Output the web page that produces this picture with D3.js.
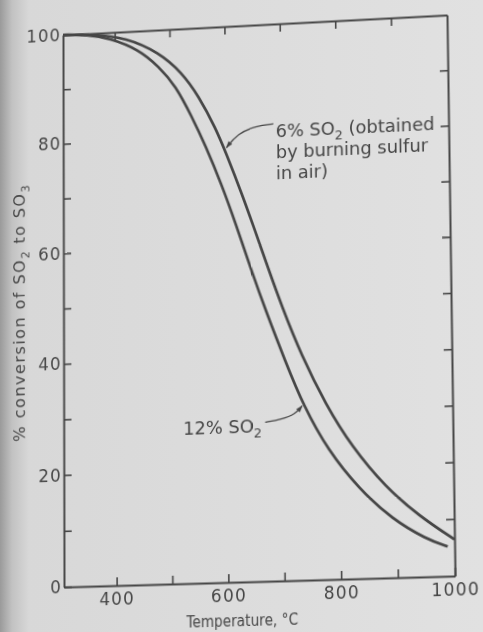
<!DOCTYPE html>
<html>
<head>
<meta charset="utf-8">
<script src="https://cdn.jsdelivr.net/npm/d3@7"></script>
<style>
  html, body { margin: 0; padding: 0; width: 483px; height: 632px; overflow: hidden; background: #dedede; }
  svg { position: absolute; left: 0; top: 0; overflow: visible; }
</style>
</head>
<body>
<div id="svganchor"></div>
<script>
let width = 483, height = 632;

// flat chart frame, later bent onto the photographed page
let frame = ({left: 63, right: 455, top: 35, bottom: 587});
// where the frame corners sit in the photo: TL, TR, BR, BL
let pageCorners = [[63, 35], [447, 15], [455, 576], [64, 587]];

// 12% SO2 curve
let temps12 = [305, 350, 390, 444, 480, 511, 539, 564, 593, 618, 645, 670, 705, 736, 780, 833, 891, 951, 988];
let conv12  = [100, 99.8, 99.0, 96.6, 93.3, 89.6, 84.0, 78.5, 71.2, 64.0, 55.6, 48.3, 38.9, 31.0, 22.7, 15.9, 10.3, 6.6, 5.2];

// 6% SO2 curve (sulfur burnt in air)
let temps6 = [305, 360, 421, 480, 522, 552, 583, 602, 629, 653, 675, 699, 734, 776, 821, 881, 939, 1000];
let conv6  = [100, 99.8, 98.9, 95.9, 92.0, 87.6, 81.5, 76.7, 69.5, 62.5, 55.9, 48.9, 39.8, 31.0, 23.4, 15.9, 10.7, 6.4];

let xTicks = [400, 500, 600, 700, 800, 900, 1000];
let xLabels = [400, 600, 800, 1000];
let yTicks = [0, 10, 20, 30, 40, 50, 60, 70, 80, 90, 100];
let yLabels = [0, 20, 40, 60, 80, 100];

// annotation anchors, in data units
let note6Lines = [["6% SO", "2", " (obtained"], ["by burning sulfur"], ["in air)"]];
let note6Pos = [691, 80.3];
let leader6 = [[687, 81.8], [655, 81.6], [622, 80.3], [602, 77.9]];
let note12Text = ["12% SO", "2", ""];
let note12Pos = [521, 27.2];
let leader12 = [[668, 28.2], [697, 28.6], [722, 29.5], [734, 30.9]];

let ink = "#464646";
let font = "DejaVu Sans";

function quadTransform(rect, quad) {
    let [[x0, y0], [x1, y1], [x2, y2], [x3, y3]] = quad;
    let dx1 = x1 - x2, dx2 = x3 - x2, dx3 = x0 - x1 + x2 - x3;
    let dy1 = y1 - y2, dy2 = y3 - y2, dy3 = y0 - y1 + y2 - y3;
    let den = dx1 * dy2 - dx2 * dy1;
    let g = (dx3 * dy2 - dx2 * dy3) / den;
    let h = (dx1 * dy3 - dx3 * dy1) / den;
    let a = x1 - x0 + g * x1, b = x3 - x0 + h * x3, c = x0;
    let d = y1 - y0 + g * y1, e = y3 - y0 + h * y3, f = y0;
    let W = rect.right - rect.left, H = rect.bottom - rect.top, L = rect.left, T = rect.top;
    let m = [
        a / W, d / W, 0, g / W,
        b / H, e / H, 0, h / H,
        0, 0, 1, 0,
        c - a * L / W - b * T / H, f - d * L / W - e * T / H, 0, 1 - g * L / W - h * T / H
    ];
    return `matrix3d(${m.join(",")})`;
}

// text with SO2 style subscripts: parts alternate normal / subscript
function richText(sel, parts, size) {
    let shift = 0;
    parts.forEach(function(p, i) {
        if (p === "") return;
        let sub = i % 2 === 1;
        let target = sub ? size * 0.3 : 0;
        sel.append("tspan")
            .attr("dy", target - shift)
            .attr("font-size", sub ? size * 0.72 : size)
            .text(p);
        shift = target;
    });
    return sel;
}

// page background with the shadow of the binding on the left
let bg = d3.select("#svganchor").append("svg")
    .attr("width", width)
    .attr("height", height);

let shade = bg.append("defs").append("linearGradient")
    .attr("id", "shade")
    .attr("x1", "0%").attr("x2", "100%")
    .attr("y1", "0%").attr("y2", "0%");
shade.append("stop").attr("offset", "0%").attr("stop-color", "#9a9a9a");
shade.append("stop").attr("offset", "2.5%").attr("stop-color", "#c2c2c2");
shade.append("stop").attr("offset", "6%").attr("stop-color", "#d8d8d8");
shade.append("stop").attr("offset", "100%").attr("stop-color", "#e1e1e1");

bg.append("rect")
    .attr("width", width)
    .attr("height", height)
    .attr("fill", "url(#shade)");

let svg = d3.select("#svganchor").append("svg")
    .attr("width", width)
    .attr("height", height)
    .style("transform-origin", "0 0")
    .style("transform", quadTransform(frame, pageCorners));

let defs = svg.append("defs");
defs.append("marker")
    .attr("id", "arrow")
    .attr("viewBox", "0 0 10 10")
    .attr("refX", 9)
    .attr("refY", 5)
    .attr("markerWidth", 8)
    .attr("markerHeight", 7)
    .attr("markerUnits", "userSpaceOnUse")
    .attr("orient", "auto")
    .append("path")
    .attr("d", "M0,1.5L10,5L0,8.5Z")
    .attr("fill", ink);

let xScale = d3.scaleLinear()
    .domain([305, 1000])
    .range([frame.left, frame.right]);

let yScale = d3.scaleLinear()
    .domain([0, 100])
    .range([frame.bottom, frame.top]);

function styleAxis(g) {
    g.attr("color", ink)
        .attr("font-family", font)
        .attr("font-size", 17);
    g.select(".domain").attr("stroke-width", 2);
    g.selectAll(".tick line").attr("stroke-width", 1.6);
    g.selectAll(".tick text").attr("fill", ink).attr("letter-spacing", 1.2);
}

let gX = svg.append("g")
    .attr("transform", `translate(0,${frame.bottom})`)
    .call(d3.axisBottom(xScale)
        .tickValues(xTicks)
        .tickSizeInner(-8)
        .tickSizeOuter(0)
        .tickPadding(7)
        .tickFormat(d => xLabels.includes(d) ? d : ""))
    .call(styleAxis);

let gXTop = svg.append("g")
    .attr("transform", `translate(0,${frame.top})`)
    .call(d3.axisTop(xScale)
        .tickValues(xTicks.filter(d => d < 1000))
        .tickSizeInner(-8)
        .tickSizeOuter(0)
        .tickFormat(""))
    .call(styleAxis);

let gY = svg.append("g")
    .attr("transform", `translate(${frame.left},0)`)
    .call(d3.axisLeft(yScale)
        .tickValues(yTicks)
        .tickSizeInner(-8)
        .tickSizeOuter(0)
        .tickPadding(2)
        .tickFormat(d => yLabels.includes(d) ? d : ""))
    .call(styleAxis);

let gYRight = svg.append("g")
    .attr("transform", `translate(${frame.right},0)`)
    .call(d3.axisRight(yScale)
        .tickValues(yTicks.filter(d => d > 0 && d < 100))
        .tickSizeInner(-8)
        .tickSizeOuter(0)
        .tickFormat(""))
    .call(styleAxis);

// curves
let line = d3.line()
    .x(d => xScale(d[0]))
    .y(d => yScale(d[1]))
    .curve(d3.curveBasis);

let series = [
    d3.zip(temps12, conv12),
    d3.zip(temps6, conv6)
];

svg.selectAll(".curve")
    .data(series)
    .enter()
    .append("path")
    .attr("class", "curve")
    .attr("d", line)
    .attr("fill", "none")
    .attr("stroke", ink)
    .attr("stroke-width", 2.7)
    .attr("stroke-linejoin", "round");

// leaders with arrowheads
let leader = d3.line()
    .x(d => xScale(d[0]))
    .y(d => yScale(d[1]))
    .curve(d3.curveBasis);

svg.selectAll(".leader")
    .data([leader6, leader12])
    .enter()
    .append("path")
    .attr("class", "leader")
    .attr("d", leader)
    .attr("fill", "none")
    .attr("stroke", ink)
    .attr("stroke-width", 1.3)
    .attr("marker-end", "url(#arrow)");

// annotation texts
note6Lines.forEach(function(parts, i) {
    let t = svg.append("text")
        .attr("x", xScale(note6Pos[0]))
        .attr("y", yScale(note6Pos[1]) + 5 + i * 21)
        .attr("font-family", font)
        .attr("fill", ink);
    richText(t, parts, 18);
});

let t12 = svg.append("text")
    .attr("x", xScale(note12Pos[0]))
    .attr("y", yScale(note12Pos[1]) + 4)
    .attr("font-family", font)
    .attr("fill", ink);
richText(t12, note12Text, 18);

// axis titles
svg.append("text")
    .attr("text-anchor", "middle")
    .attr("x", (frame.left + frame.right) / 2 - 16)
    .attr("y", frame.bottom + 43)
    .attr("font-family", font)
    .attr("font-size", 16.5)
    .attr("textLength", 112)
    .attr("lengthAdjust", "spacingAndGlyphs")
    .attr("fill", ink)
    .text("Temperature, °C");

let yTitle = svg.append("text")
    .attr("text-anchor", "middle")
    .attr("transform", `translate(23,${(frame.top + frame.bottom) / 2 + 2}) rotate(-90)`)
    .attr("font-family", font)
    .attr("letter-spacing", 1.5)
    .attr("fill", ink);
richText(yTitle, ["% conversion of SO", "2", " to SO", "3"], 16);
</script>
</body>
</html>
